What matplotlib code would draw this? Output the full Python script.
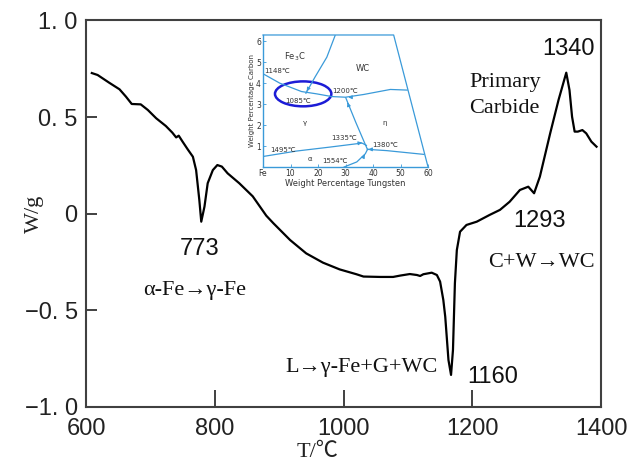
import matplotlib
matplotlib.use("Agg")
import matplotlib.pyplot as plt
from matplotlib.patches import Ellipse

# ---- main DSC curve data ----
temp = [609, 618, 636, 652, 662, 671, 685, 696, 709, 724, 734, 740, 744, 750, 758, 766,
        771, 776, 779, 784, 789, 797, 804, 811, 820, 838, 859, 880, 891, 917, 942, 968,
        994, 1020, 1031, 1057, 1077, 1088, 1103, 1114, 1119, 1124, 1137, 1145, 1150, 1155,
        1158, 1163, 1167, 1170, 1173, 1176, 1181, 1191, 1207, 1227, 1243, 1258, 1274, 1287,
        1296, 1305, 1321, 1334, 1346, 1351, 1355, 1359, 1364, 1371, 1377, 1385, 1393]
heat = [0.728, 0.718, 0.678, 0.644, 0.606, 0.568, 0.566, 0.537, 0.494, 0.454, 0.420, 0.395,
        0.404, 0.373, 0.333, 0.295, 0.226, 0.071, -0.041, 0.037, 0.158, 0.226, 0.252, 0.244,
        0.209, 0.158, 0.090, -0.010, -0.049, -0.136, -0.205, -0.253, -0.288, -0.313, -0.325,
        -0.327, -0.327, -0.320, -0.312, -0.317, -0.322, -0.313, -0.305, -0.317, -0.351, -0.446,
        -0.533, -0.757, -0.834, -0.705, -0.360, -0.188, -0.093, -0.058, -0.041, -0.006, 0.020,
        0.062, 0.123, 0.140, 0.106, 0.192, 0.416, 0.589, 0.730, 0.640, 0.502, 0.425, 0.425,
        0.433, 0.416, 0.373, 0.347]

x_ticks = [600, 800, 1000, 1200, 1400]
y_ticks = [-1.0, -0.5, 0.0, 0.5, 1.0]
y_tick_labels = ['\u22121. 0', '\u22120. 5', '0', '0. 5', '1. 0']

# ---- inset phase diagram data (wt% W, wt% C) ----
top_w = [0, 47.5, 60]
top_c = [6.3, 6.3, 0]
l1148_w = [0, 6.1, 14, 19.5, 25, 30, 36.6, 46.3, 52.4]
l1148_c = [4.45, 4.0, 3.6, 3.49, 3.36, 3.33, 3.46, 3.7, 3.67]
lfe3c_w = [26.2, 23.2, 18.9, 15.6]
lfe3c_c = [6.27, 5.24, 4.29, 3.52]
l1335_w = [30.1, 33.7, 36.8, 38.0]
l1335_c = [3.3, 2.14, 1.19, 0.83]
l1495_w = [0, 12.2, 24.4, 36.0, 37.6]
l1495_c = [0.5, 0.76, 0.95, 1.14, 1.03]
l1380_w = [38.0, 45.0, 58.5]
l1380_c = [0.84, 0.78, 0.6]
l1554_w = [29.5, 34.1, 37.2, 38.0]
l1554_c = [0.0, 0.24, 0.63, 0.84]

serif = ['Liberation Serif', 'DejaVu Serif', 'DejaVu Sans', 'Noto Sans CJK SC']
sans = ['Liberation Sans', 'DejaVu Sans', 'Noto Sans CJK SC']

W, H = 633, 469
fig = plt.figure(figsize=(W / 100, H / 100), dpi=100)
ax = fig.add_axes([0.1359, 0.1322, 0.8136, 0.8241])
ax.plot(temp, heat, color='black', lw=1.6, solid_joinstyle='round')
ax.set_xlim(600, 1400)
ax.set_ylim(-1.0, 1.0)
ax.set_xticks(x_ticks)
ax.set_xticklabels([str(t) for t in x_ticks])
ax.set_yticks(y_ticks)
ax.set_yticklabels(y_tick_labels)
ax.tick_params(direction='in', width=1.4, color='#404040', labelsize=17)
ax.tick_params(axis='x', length=12, pad=8)
ax.tick_params(axis='y', length=8, pad=6)
for lab in ax.get_xticklabels() + ax.get_yticklabels():
    lab.set_family(sans)
    lab.set_color('#222222')
for s in ax.spines.values():
    s.set_linewidth(1.5)
    s.set_color('#404040')

# axis titles placed at their pixel positions in the reference
fig.text(34 / W, 1 - 214 / H, 'W/g', rotation=90, fontsize=16, family=serif,
         ha='center', va='center', color='#222222')
fig.text(318 / W, 1 - 462 / H, 'T/\u2103', fontsize=16,
         family=['Liberation Serif', 'Noto Sans CJK SC'],
         ha='center', va='bottom', color='#222222')

nt = dict(color='#111111', ha='center', va='baseline', fontsize=17, family=sans)
st = dict(color='#111111', ha='center', va='baseline', fontsize=16, family=serif)
ax.text(777, -0.215, '773', **nt)
ax.text(769, -0.42, '\u03b1-Fe\u2192\u03b3-Fe', **st)
ax.text(1028, -0.817, 'L\u2192\u03b3-Fe+G+WC', **st)
ax.text(1231, -0.876, '1160', **nt)
ax.text(1305, -0.07, '1293', **nt)
ax.text(1308, -0.277, 'C+W\u2192WC', **st)
ax.text(1251, 0.656, 'Primary', **st)
ax.text(1250, 0.52, 'Carbide', **st)
ax.text(1349, 0.82, '1340', **nt)

# ---- inset ----
blue = '#3a9ad9'
ins = fig.add_axes([0.4155, 0.644, 0.2607, 0.2814])
ins.set_xlim(0, 60)
ins.set_ylim(0, 6.3)
ins.patch.set_facecolor('white')
for side in ['top', 'right']:
    ins.spines[side].set_visible(False)
for side in ['left', 'bottom']:
    ins.spines[side].set_color(blue)
    ins.spines[side].set_linewidth(1.0)
lw = 0.9
ins.plot(top_w, top_c, color=blue, lw=lw, clip_on=False)
for w, c in [(l1148_w, l1148_c), (lfe3c_w, lfe3c_c), (l1335_w, l1335_c),
             (l1495_w, l1495_c), (l1380_w, l1380_c), (l1554_w, l1554_c)]:
    ins.plot(w, c, color=blue, lw=lw)
arrows = [((16.5, 3.75), (15.4, 3.5)), ((33, 3.33), (31, 3.33)),
          ((31.2, 2.9), (30.4, 3.2)), ((34.5, 1.13), (36.0, 1.16)),
          ((36.4, 0.45), (37.5, 0.72)), ((39.5, 0.84), (38.3, 0.84))]
for (x0, y0), (x1, y1) in arrows:
    ins.annotate('', xy=(x1, y1), xytext=(x0, y0),
                 arrowprops=dict(arrowstyle='-|>', color=blue, lw=0.8,
                                 mutation_scale=5))
ins.add_patch(Ellipse((14.6, 3.49), 20.5, 1.19, fill=False,
                      edgecolor='#1c1cd6', lw=1.8))
ins.set_xticks([0, 10, 20, 30, 40, 50, 60])
ins.set_xticklabels(['Fe', '10', '20', '30', '40', '50', '60'])
ins.set_yticks([1, 2, 3, 4, 5, 6])
ins.tick_params(direction='in', length=2, width=0.6, color=blue,
                labelsize=5.5, pad=1.5, labelcolor='#333333')
ins.set_xlabel('Weight Percentage Tungsten', fontsize=6, labelpad=0.5, color='#333333')
ins.set_ylabel('Weight Percentage Carbon', fontsize=5, labelpad=1, color='#333333')
it = dict(color='#333333', ha='center', va='center', fontsize=5)
ins.text(11.6, 5.27, 'Fe$_3$C', fontsize=6, color='#333333', ha='center', va='center')
ins.text(36.2, 4.7, 'WC', fontsize=6, color='#333333', ha='center', va='center')
ins.text(5.0, 4.57, '1148\u2103', family=['DejaVu Sans'], **it)
ins.text(12.8, 3.15, '1085\u2103', family=['DejaVu Sans'], **it)
ins.text(30.0, 3.65, '1200\u2103', family=['DejaVu Sans'], **it)
ins.text(15.2, 2.1, '\u03b3', **it)
ins.text(44.3, 2.1, '\u03b7', **it)
ins.text(29.3, 1.4, '1335\u2103', family=['DejaVu Sans'], **it)
ins.text(44.5, 1.03, '1380\u2103', family=['DejaVu Sans'], **it)
ins.text(7.1, 0.83, '1495\u2103', family=['DejaVu Sans'], **it)
ins.text(17.1, 0.4, '\u03b1', **it)
ins.text(26.2, 0.29, '1554\u2103', family=['DejaVu Sans'], **it)

fig.savefig('out.png', dpi=100)
